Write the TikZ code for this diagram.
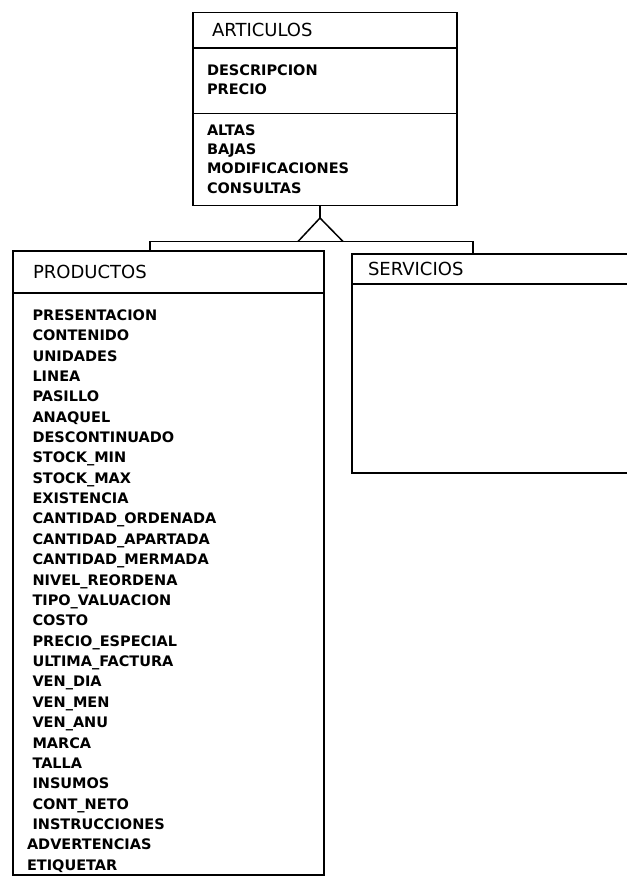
\documentclass[tikz,border=0pt]{standalone}
\usepackage{fontspec}
\setmainfont{DejaVu Sans}
\usetikzlibrary{positioning}

\begin{document}
\begin{tikzpicture}[
  x=1pt, y=-1pt,
  line/.style={line width=1.5pt},
  hdr/.style={draw,line width=1.5pt,outer sep=0pt,inner ysep=0pt,align=left,
              anchor=north west,font=\fontsize{18}{20}\selectfont},
  frame/.style={draw,line width=1.5pt,outer sep=0pt,inner sep=0pt},
  items/.style={inner sep=0pt,outer sep=0pt,align=left,
                font=\bfseries\fontsize{14.5}{19.3}\selectfont}
]
\useasboundingbox (0,0) rectangle (627,879);
\clip (0,0) rectangle (627,879);

% clase base
\node[hdr,inner xsep=19pt,text width=226pt,minimum height=35.5pt] (art) at (193,12.5) {ARTICULOS};
\node[frame,below=0pt of art,minimum width=264pt,minimum height=65.5pt] (art-attr) {};
\node[frame,below=0pt of art-attr,minimum width=264pt,minimum height=92pt] (art-ops) {};
\node[items,below right=16.4pt and 14pt of art-attr.north west] (art-attr-txt) {DESCRIPCION\\PRECIO};
\node[items,below right=11pt and 14pt of art-ops.north west] (art-ops-txt)
  {ALTAS\\BAJAS\\MODIFICACIONES\\CONSULTAS};

% subclases
\node[hdr,inner xsep=20pt,text width=271pt,minimum height=42pt] (prod) at (13,251) {PRODUCTOS};
\node[frame,below=0pt of prod,minimum width=311pt,minimum height=582pt] (prod-attr) {};
\node[items,font=\bfseries\fontsize{14.5}{20.37}\selectfont,
      below right=16.5pt and 19.5pt of prod-attr.north west] (prod-attr-txt)
  {PRESENTACION\\CONTENIDO\\UNIDADES\\LINEA\\PASILLO\\ANAQUEL\\DESCONTINUADO\\
   STOCK\_MIN\\STOCK\_MAX\\EXISTENCIA\\CANTIDAD\_ORDENADA\\CANTIDAD\_APARTADA\\
   CANTIDAD\_MERMADA\\NIVEL\_REORDENA\\TIPO\_VALUACION\\COSTO\\PRECIO\_ESPECIAL\\
   ULTIMA\_FACTURA\\VEN\_DIA\\VEN\_MEN\\VEN\_ANU\\MARCA\\TALLA\\INSUMOS\\CONT\_NETO\\
   INSTRUCCIONES\\\hspace*{-5.5pt}ADVERTENCIAS\\\hspace*{-5.5pt}ETIQUETAR};

\node[hdr,inner xsep=16pt,text width=268pt,minimum height=30pt] (serv) at (352,254) {SERVICIOS};
\node[frame,below=0pt of serv,minimum width=300pt,minimum height=189pt] (serv-attr) {};

% herencia
\coordinate (gen) at (320,218);
\coordinate (bar) at (320,241.5);
\draw[line] (art-ops.south -| gen) -- (gen);
\draw[line] ([xshift=-22pt]bar) -- (gen) -- ([xshift=23pt]bar);
\draw[line] ([xshift=137pt]prod.north west) |- (bar) -| ([xshift=121pt]serv.north west);
\end{tikzpicture}
\end{document}
